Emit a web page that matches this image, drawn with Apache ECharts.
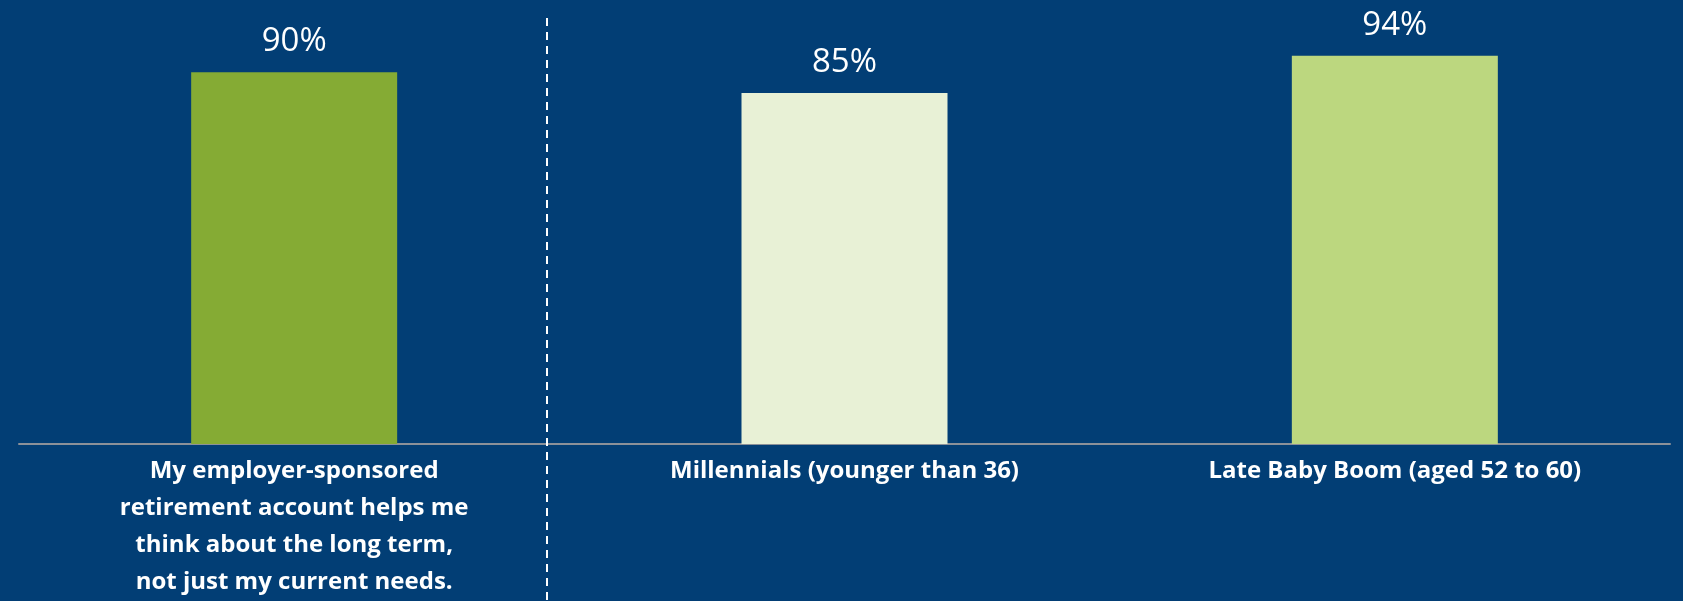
<!DOCTYPE html>
<html>
<head>
<meta charset="utf-8">
<script src="https://cdn.jsdelivr.net/npm/echarts@6/dist/echarts.min.js"></script>
<style>
  html, body { margin: 0; padding: 0; background: #023E75; }
  #chart { width: 1683px; height: 601px; }
</style>
</head>
<body>
<div id="chart"></div>
<script>
// Share of respondents agreeing, by group
const categories = [
  'My employer-sponsored\nretirement account helps me\nthink about the long term,\nnot just my current needs.',
  'Millennials (younger than 36)',
  'Late Baby Boom (aged 52 to 60)'
];
const values = [90, 85, 94];
const barColors = ['#85AB34', '#E8F1D6', '#BCD77F'];

const chart = echarts.init(document.getElementById('chart'));

chart.setOption({
  backgroundColor: '#023E75',
  animation: false,
  grid: { left: 19, right: 13, top: 31, bottom: 154 },
  xAxis: {
    type: 'category',
    data: categories,
    axisTick: { show: false },
    axisLine: { lineStyle: { color: '#8C9199', width: 2 } },
    axisLabel: {
      interval: 0,
      margin: 9,
      color: '#FFFFFF',
      fontFamily: 'Open Sans',
      fontWeight: 'bold',
      fontSize: 24,
      lineHeight: 37
    }
  },
  yAxis: {
    type: 'value',
    min: 0,
    max: 100,
    show: false,
    splitLine: { show: false }
  },
  series: [{
    type: 'bar',
    barWidth: 206,
    data: values.map((v, i) => ({ value: v, itemStyle: { color: barColors[i] } })),
    label: {
      show: true,
      position: 'top',
      distance: 14,
      color: '#FFFFFF',
      fontFamily: 'Open Sans',
      fontSize: 33,
      formatter: p => p.value + '%'
    }
  }],
  graphic: [{
    // dashed separator between the statement and the age groups
    type: 'line',
    shape: { x1: 547, y1: 18, x2: 547, y2: 601 },
    style: { stroke: '#FFFFFF', lineWidth: 2, lineDash: [8, 6] },
    z: 10
  }]
});
</script>
</body>
</html>
